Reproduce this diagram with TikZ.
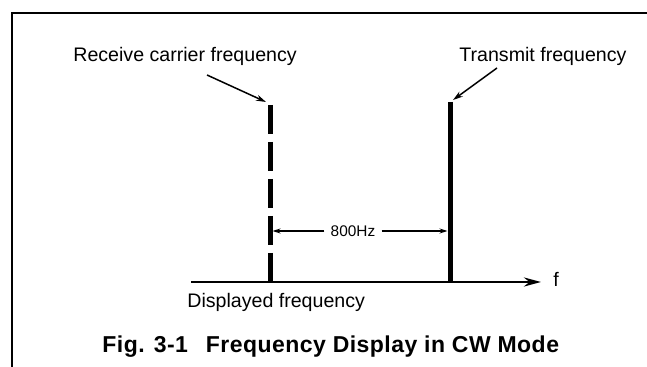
\documentclass[tikz,border=0pt]{standalone}
\usepackage{fontspec}
\setmainfont{Liberation Sans}
\newfontfamily\capfont{Liberation Sans}[LetterSpace=2]
\usetikzlibrary{arrows.meta}

\begin{document}
\begin{tikzpicture}[x=0.5pt,y=-0.5pt,
    lbl/.style={inner sep=0pt,font=\fontsize{9.8pt}{11pt}\selectfont},
    leader/.style={line width=0.75pt,-{Stealth[length=5pt,width=3pt]}},
    dimarrow/.style={line width=0.6pt,-{Stealth[length=4pt,width=2.5pt]}},
    freqline/.style={line width=2.5pt}]
  \useasboundingbox (0,0) rectangle (647,367);
  % frame
  \draw[line width=1pt] (12,367) -- (12,13) -- (647,13);
  % frequency lines
  \coordinate (rxtop) at (270,105);
  \coordinate (rxbot) at (270,282);
  \coordinate (txtop) at (450,102);
  \coordinate (txbot) at (450,282);
  \draw[freqline,dash pattern=on 14.5pt off 4pt] (rxtop) -- (rxbot);
  \draw[freqline] (txtop) -- (txbot);
  % axis
  \coordinate (axstart) at (191,282);
  \coordinate (axend) at (541,282);
  \draw[line width=1.35pt,-{Stealth[length=8.5pt,width=4.5pt]}] (axstart) -- (axend);
  \node[lbl,anchor=base west] (f) at (553,287) {f};
  \node[lbl,anchor=base west] (disp) at (187,308) {Displayed frequency};
  % labels
  \node[lbl,anchor=base west] (rxlabel) at (73,62) {Receive carrier frequency};
  \node[lbl,anchor=base west] (txlabel) at (459,62) {Transmit frequency};
  \coordinate (rxfrom) at (207,75);
  \coordinate (rxto) at (266,102);
  \coordinate (txfrom) at (497,68);
  \coordinate (txto) at (453,100);
  \draw[leader] (rxfrom) -- (rxto);
  \draw[leader] (txfrom) -- (txto);
  % spacing
  \node[inner sep=0pt,anchor=base,font=\fontsize{7.7pt}{9pt}\selectfont] (gap) at (353,237) {800Hz};
  \coordinate (rxmid) at (272.5,231);
  \coordinate (txmid) at (447.5,231);
  \draw[dimarrow] ([xshift=-3pt]gap.west |- rxmid) -- (rxmid);
  \draw[dimarrow] ([xshift=3pt]gap.east |- txmid) -- (txmid);
  % caption
  \node[inner sep=0pt,anchor=base west,font=\capfont\bfseries\fontsize{11.5pt}{13pt}\selectfont] (caption) at (102,353)
    {Fig. 3-1\hspace{9pt}Frequency Display in CW Mode};
\end{tikzpicture}
\end{document}
